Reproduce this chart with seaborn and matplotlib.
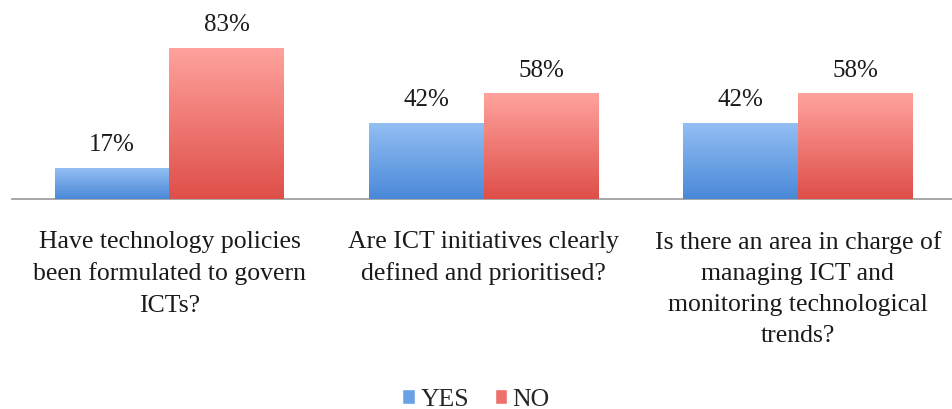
import matplotlib
matplotlib.use('Agg')
import matplotlib.pyplot as plt
from matplotlib.colors import LinearSegmentedColormap
from matplotlib.patches import Patch
import numpy as np
import pandas as pd
import seaborn as sns

questions = ['Have technology policies\nbeen formulated to govern\nICTs?',
             'Are ICT initiatives clearly\ndefined and prioritised?',
             'Is there an area in charge of\nmanaging ICT and\nmonitoring technological\ntrends?']
answers = ['YES', 'NO']
yes_pct = [17, 42, 42]
no_pct = [83, 58, 58]

df = pd.DataFrame({
    'question': questions * 2,
    'answer': ['YES'] * 3 + ['NO'] * 3,
    'pct': yes_pct + no_pct,
})

# top / bottom colours of the gradient fill
grad = {'YES': ('#93bff3', '#4a89d8'), 'NO': ('#ffa29d', '#df4f49')}
solid = {'YES': '#6aa2e6', 'NO': '#ee706b'}

sns.set_theme(style='white')
plt.rcParams['font.family'] = ['Liberation Serif', 'DejaVu Serif']

fig = plt.figure(figsize=(9.52, 4.10), dpi=100)
ax = fig.add_axes([0.013, 0.512, 0.99, 0.444])

sns.barplot(data=df, x='question', y='pct', hue='answer', hue_order=answers,
            order=questions, palette=solid, width=0.73, gap=0, legend=False,
            ax=ax, errorbar=None)

for cont, ans in zip(ax.containers, answers):
    cmap = LinearSegmentedColormap.from_list(ans, [grad[ans][1], grad[ans][0]])
    for bar in cont:
        x0 = bar.get_x()
        w = bar.get_width()
        h = bar.get_height()
        img = ax.imshow(np.linspace(0, 1, 100).reshape(-1, 1), cmap=cmap,
                        origin='lower', extent=[x0, x0 + w, 0, h],
                        aspect='auto', zorder=3)
        img.set_clip_path(bar)
        ax.text(x0 + w / 2, h + 7, '{}%'.format(int(h)), ha='center',
                va='bottom', fontsize=18, color='#1a1a1a')

ax.set_xlim(-0.5, 2.5)
ax.set_ylim(0, 100)
ax.set_xlabel('')
ax.set_ylabel('')
ax.set_yticks([])
ax.set_xticks(range(len(questions)))
ax.set_xticklabels(questions, linespacing=1.54)
for s in ['top', 'left', 'right']:
    ax.spines[s].set_visible(False)
ax.spines['bottom'].set_color('#a0a0a0')
ax.spines['bottom'].set_linewidth(1.3)
ax.tick_params(axis='x', length=0, pad=22, labelsize=18.5, labelcolor='#1a1a1a')

handles = [Patch(facecolor=solid[a], label=a) for a in answers]
fig.legend(handles=handles, loc='lower center', bbox_to_anchor=(0.5, -0.06),
           ncol=2, frameon=False, fontsize=18.5, handlelength=0.5,
           handleheight=0.5, handletextpad=0.2, columnspacing=1.0)

fig.savefig('out.png', dpi=100)
